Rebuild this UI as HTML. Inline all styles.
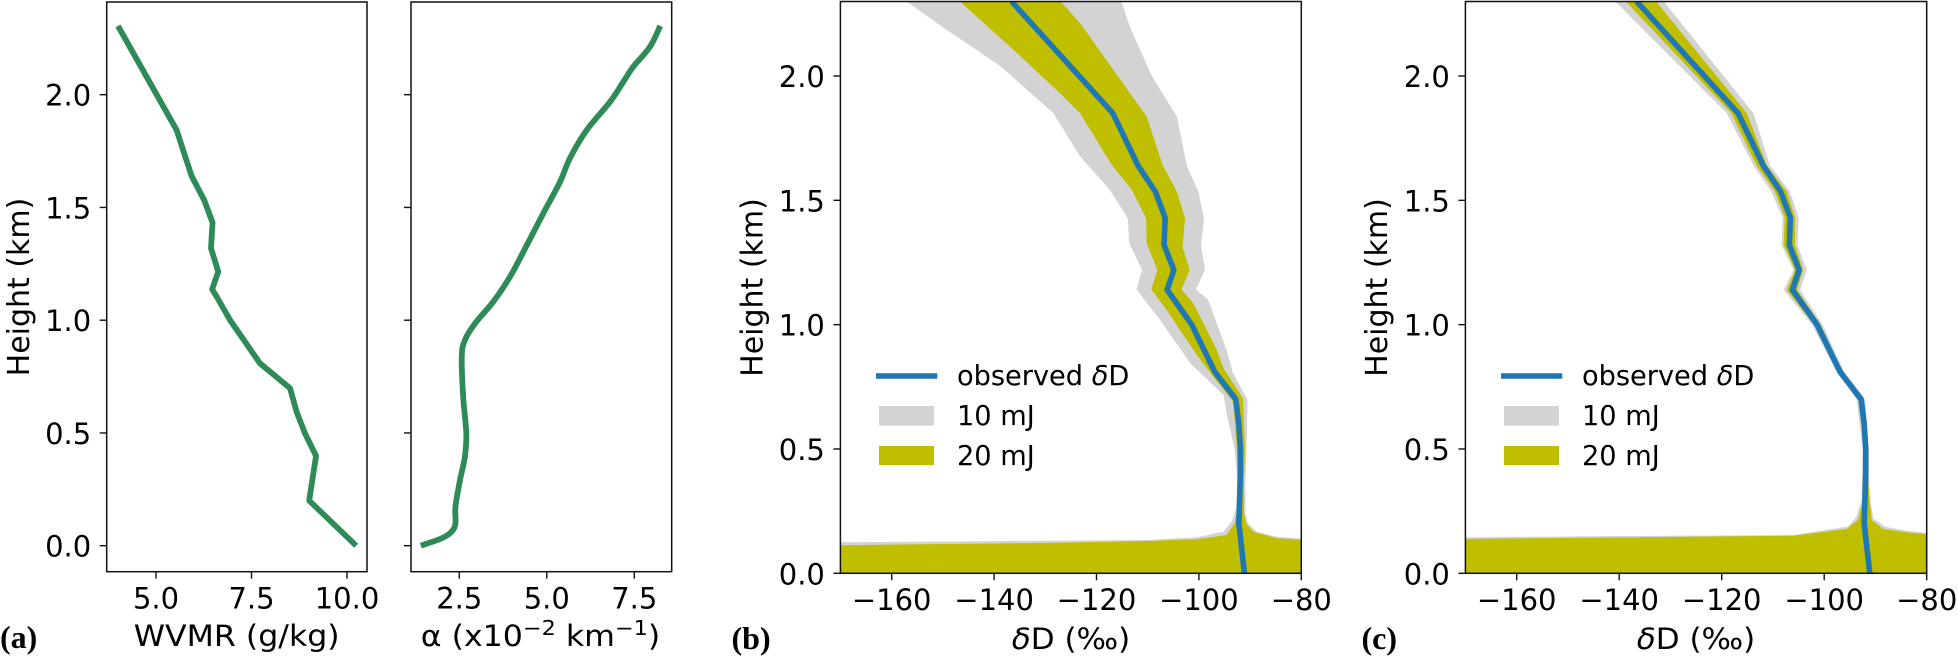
<!DOCTYPE html>
<html lang="en">
<head>
<meta charset="utf-8">
<title>Profiles of WVMR, extinction and delta-D</title>
<style>
  html, body { margin: 0; padding: 0; background: #fff; }
  svg { display: block; }
  text { font-family: "DejaVu Sans", sans-serif; fill: #000; }
  .panel-tag { font-family: "Liberation Serif", serif; font-weight: bold; font-size: 32px; }
</style>
</head>
<body>
<svg id="fig" xmlns="http://www.w3.org/2000/svg" width="1958" height="658" viewBox="0 0 1958 658">
  <defs>
    <clipPath id="clip-a"><rect x="106.7" y="2" width="260.3" height="569.7"/></clipPath>
    <clipPath id="clip-alpha"><rect x="411" y="2" width="260.7" height="569.7"/></clipPath>
    <clipPath id="clip-b"><rect x="840.4" y="1.5" width="460.9" height="571.8"/></clipPath>
    <clipPath id="clip-c"><rect x="1465.4" y="1.5" width="461.3" height="571.8"/></clipPath>
  </defs>
  <text class="panel-tag" x="0" y="648">(a)</text>
  <text class="panel-tag" x="731.5" y="649">(b)</text>
  <text class="panel-tag" x="1361.5" y="649">(c)</text>
</svg>
<script>
// ---------- data: panel (a) ----------
const wvmrHeights = [2.305,1.843,1.64,1.533,1.433,1.319,1.215,1.137,1.104,1.0,0.809,0.698,0.594,0.498,0.398,0.2,0];
const wvmrValues  = [4.005,5.54,5.93,6.26,6.48,6.44,6.63,6.47,6.59,6.94,7.72,8.51,8.68,8.9,9.19,9.01,10.24];
const wvmrTicks = [5, 7.5, 10];
const wvmrTickLabels = ["5.0", "7.5", "10.0"];

// ---------- data: extinction panel ----------
const alphaHeights = [0,0.033,0.062,0.099,0.173,0.291,0.395,0.498,0.661,0.838,0.912,0.986,1.082,1.193,1.333,1.474,1.614,1.718,1.843,1.969,2.058,2.124,2.213,2.305];
const alphaValues  = [1.40,2.0,2.28,2.39,2.39,2.52,2.66,2.7,2.61,2.57,2.66,2.95,3.47,3.95,4.43,4.9,5.38,5.66,6.14,6.81,7.19,7.47,7.95,8.24];
const alphaTicks = [2.5, 5, 7.5];
const alphaTickLabels = ["2.5", "5.0", "7.5"];

// ---------- shared axes ----------
const heightTicks = [0, 0.5, 1, 1.5, 2];
const heightTickLabels = ["0.0", "0.5", "1.0", "1.5", "2.0"];
const deltaTicks = [-160, -140, -120, -100, -80];
const deltaTickLabels = ["\u2212160", "\u2212140", "\u2212120", "\u2212100", "\u221280"];

// ---------- data: observed delta-D (panels b and c) ----------
const observedHeights = [2.3,1.85,1.64,1.535,1.43,1.32,1.22,1.14,1.0,0.81,0.70,0.6,0.5,0.4,0.2,0];
const observedValues  = [-136.6,-116.8,-111.9,-108.5,-106.6,-106.8,-104.9,-106.2,-101.4,-96.9,-92.8,-92.2,-91.9,-91.9,-92.2,-91.1];

// ---------- data: panel (b) bands ----------
const b10LeftHeights  = [2.3,2.186,2.04,1.85,1.676,1.542,1.428,1.327,1.22,1.142,1.019,0.845,0.717,0.644,0.496,0.375,0.268,0.208,0.167,0.145,0.134,0.125,0];
const b10LeftValues   = [-157.1,-149.3,-138.8,-128.4,-123.2,-117.4,-113.9,-113.6,-111.1,-112.2,-107.6,-101.7,-95.2,-94.6,-93,-92.5,-92.6,-93.6,-95.2,-100.4,-110.2,-170,-170];
const b10RightHeights = [2.3,2.198,2.0,1.837,1.635,1.535,1.428,1.321,1.22,1.142,1.1,0.898,0.804,0.697,0.496,0.375,0.241,0.201,0.167,0.147,0.14,0];
const b10RightValues  = [-115.1,-113.5,-109.2,-104.3,-102.3,-100.1,-99,-99.6,-98.8,-100.6,-98.2,-94.6,-93.3,-90.5,-90.7,-90.9,-90.9,-90.4,-88.7,-84.8,-80,-80];
const b20LeftHeights  = [2.3,2.105,1.93,1.85,1.642,1.542,1.428,1.327,1.22,1.142,1.059,0.878,0.791,0.69,0.509,0.375,0.268,0.201,0.154,0.137,0.13,0.123,0.113,0];
const b20LeftValues   = [-146.7,-136.2,-127.1,-123.2,-117,-113.1,-110.3,-110.2,-108.1,-109.3,-106.3,-100.4,-97.2,-93.3,-92.6,-92.3,-92.4,-93,-94.6,-100.4,-110.2,-127,-170,-170];
const b20RightHeights = [2.3,2.212,1.837,1.642,1.535,1.428,1.312,1.22,1.142,1.086,0.898,0.825,0.704,0.496,0.375,0.241,0.201,0.167,0.141,0.135,0];
const b20RightValues  = [-127,-123.2,-110.2,-107.1,-104.3,-102.7,-103.2,-101.8,-103.4,-101.1,-96.5,-95.2,-91.4,-91,-91.2,-91.2,-90.8,-89.4,-84.8,-80,-80];

// ---------- data: panel (c) bands ----------
const c10LeftHeights  = [2.3,1.85,1.64,1.535,1.43,1.32,1.22,1.14,1.0,0.81,0.70,0.5,0.4,0.295,0.228,0.188,0.154,0.15,0.145,0];
const c10LeftValues   = [-140.8,-119,-113.8,-110.3,-108.1,-108.3,-106,-107.9,-102.4,-97.6,-93.7,-92.5,-92.6,-92.7,-93.7,-95.3,-106,-138.5,-170,-170];
const c10RightHeights = [2.3,1.85,1.64,1.535,1.43,1.32,1.22,1.14,1.0,0.81,0.70,0.5,0.4,0.282,0.221,0.187,0.171,0.163,0];
const c10RightValues  = [-131.3,-113.8,-110.6,-106.7,-105,-105.2,-103.4,-104.7,-100.3,-96.1,-92,-91.3,-91.3,-90.9,-90.4,-88.1,-83.9,-80,-80];
const c20LeftHeights  = [2.3,1.85,1.64,1.535,1.43,1.32,1.22,1.14,1.0,0.81,0.70,0.5,0.4,0.282,0.214,0.178,0.168,0.151,0.138,0];
const c20LeftValues   = [-138.7,-118.1,-113.2,-109.6,-107.7,-107.9,-105.7,-107.3,-102,-97.3,-93.3,-92.2,-92.2,-92.6,-93.4,-95.6,-99.5,-106,-170,-170];
const c20RightHeights = [2.3,1.85,1.64,1.535,1.43,1.32,1.22,1.14,1.0,0.81,0.70,0.5,0.4,0.282,0.214,0.178,0.165,0.157,0];
const c20RightValues  = [-132.8,-115.1,-111.2,-107.3,-105.7,-105.7,-104.1,-105.3,-100.7,-96.4,-92.3,-91.5,-91.5,-91.1,-90.7,-88.5,-83.9,-80,-80];

// ---------- legend text ----------
const legendLabels = ["10 mJ", "20 mJ"];

// ---------- drawing ----------
const NS = "http://www.w3.org/2000/svg";
const fig = document.getElementById("fig");

function make(tag, parent, attrs) {
  const el = document.createElementNS(NS, tag);
  for (const k in attrs) el.setAttribute(k, attrs[k]);
  parent.appendChild(el);
  return el;
}
function linear(d0, d1, r0, r1) {
  return function (v) { return r0 + (v - d0) * (r1 - r0) / (d1 - d0); };
}
function linePoints(values, heights, x, y) {
  return values.map(function (v, i) { return x(v).toFixed(2) + "," + y(heights[i]).toFixed(2); }).join(" ");
}
function bandPoints(lv, lh, rv, rh, x, y) {
  return linePoints(lv, lh, x, y) + " " + linePoints(rv.slice().reverse(), rh.slice().reverse(), x, y);
}
function smoothPath(values, heights, x, y) {
  const p = values.map(function (v, i) { return [x(v), y(heights[i])]; });
  let d = "M" + p[0][0].toFixed(2) + " " + p[0][1].toFixed(2);
  for (let i = 0; i < p.length - 1; i++) {
    const a = p[Math.max(i - 1, 0)], b = p[i], c = p[i + 1], e = p[Math.min(i + 2, p.length - 1)];
    d += " C" + (b[0] + (c[0] - a[0]) / 6).toFixed(2) + " " + (b[1] + (c[1] - a[1]) / 6).toFixed(2) +
         " " + (c[0] - (e[0] - b[0]) / 6).toFixed(2) + " " + (c[1] - (e[1] - b[1]) / 6).toFixed(2) +
         " " + c[0].toFixed(2) + " " + c[1].toFixed(2);
  }
  return d;
}

const yA = linear(0, 2, 545.7, 94.7);
const xA = linear(5, 10, 156, 347);
const xAlpha = linear(2.5, 7.5, 459.3, 634.3);
const yD = linear(0, 2, 573.3, 76);
const xB = linear(-160, -80, 891.7, 1301.3);
const xC = linear(-160, -80, 1516.7, 1926.7);

function drawAxes(g, box, x, y, xTicks, xLabels, showYLabels) {
  xTicks.forEach(function (t, i) {
    const tick = make("line", g, { x1: x(t), x2: x(t), y1: box.b, y2: box.b + 7, stroke: "#111", "stroke-width": 1.4 });
    
    
    const lab = make("text", g, { x: x(t), y: box.b + 36.6, "text-anchor": "middle", "font-size": 29 });
    lab.textContent = xLabels[i];
    
    
  });
  heightTicks.forEach(function (t, i) {
    const tick = make("line", g, { x1: box.l - 7, x2: box.l, y1: y(t), y2: y(t), stroke: "#111", "stroke-width": 1.4 });
    
    
    if (showYLabels) {
      const lab = make("text", g, { x: box.l - 15.5, y: y(t) + 11, "text-anchor": "end", "font-size": 29 });
      lab.textContent = heightTickLabels[i];
      
      
    }
  });
  const frame = make("rect", g, { x: box.l, y: box.t, width: box.r - box.l, height: box.b - box.t, fill: "none", stroke: "#111", "stroke-width": 1.5 });
  
  
}

function yTitle(g, xBase, yCenter) {
  const t = make("text", g, { transform: "translate(" + xBase + "," + yCenter + ") rotate(-90)", "text-anchor": "middle", "font-size": 30 });
  t.textContent = "Height (km)";
  
  
}

function deltaTitle(g, cx) {
  const t = make("text", g, { transform: "translate(" + cx + ",649) scale(1.07,1)", "text-anchor": "middle", "font-size": 29 });
  const d = make("tspan", t, { "font-style": "italic" });
  d.textContent = "\u03B4";
  const rest = make("tspan", t, {});
  rest.textContent = "D (\u2030)";
  
  
}

function drawLegend(g, dx) {
  const l = make("line", g, { x1: 876 + dx, x2: 937.3 + dx, y1: 376, y2: 376, stroke: "#1f77b4", "stroke-width": 5.6 });
  
  
  const t0 = make("text", g, { x: 957 + dx, y: 385, "font-size": 27.2 });
  const a = make("tspan", t0, {});
  a.textContent = "observed ";
  const b = make("tspan", t0, { "font-style": "italic" });
  b.textContent = "\u03B4";
  const c = make("tspan", t0, {});
  c.textContent = "D";
  
  

  const r1 = make("rect", g, { x: 879 + dx, y: 406, width: 55, height: 19.7, fill: "#d3d3d3" });
  
  
  const t1 = make("text", g, { x: 957 + dx, y: 425, "font-size": 27.2 });
  t1.textContent = legendLabels[0];
  
  

  const r2 = make("rect", g, { x: 879 + dx, y: 446, width: 55, height: 19, fill: "#bfbf00" });
  
  
  const t2 = make("text", g, { x: 957 + dx, y: 465, "font-size": 27.2 });
  t2.textContent = legendLabels[1];
  
  
}

// Panel (a)
const gA = make("g", fig, {});


const lineA = make("polyline", gA, { points: linePoints(wvmrValues, wvmrHeights, xA, yA), fill: "none", stroke: "#2e8b57", "stroke-width": 5.8, "stroke-linejoin": "round", "clip-path": "url(#clip-a)" });


drawAxes(gA, { l: 106.7, r: 367, t: 2, b: 571.7 }, xA, yA, wvmrTicks, wvmrTickLabels, true);
yTitle(gA, 29, 287);
const titleA = make("text", gA, { transform: "translate(236.7,646) scale(1.09,1)", "text-anchor": "middle", "font-size": 29 });
titleA.textContent = "WVMR (g/kg)";



// Extinction panel
const gAl = make("g", fig, {});


const lineAl = make("path", gAl, { d: smoothPath(alphaValues, alphaHeights, xAlpha, yA), fill: "none", stroke: "#2e8b57", "stroke-width": 5.8, "stroke-linejoin": "round", "clip-path": "url(#clip-alpha)" });


drawAxes(gAl, { l: 411, r: 671.7, t: 2, b: 571.7 }, xAlpha, yA, alphaTicks, alphaTickLabels, false);
const titleAl = make("text", gAl, { transform: "translate(540.5,646) scale(1.09,1)", "text-anchor": "middle", "font-size": 29 });
const s1 = make("tspan", titleAl, {});
s1.textContent = "\u03B1 (x10";
const s2 = make("tspan", titleAl, { dy: -11, "font-size": 20.5 });
s2.textContent = "\u22122";
const s3 = make("tspan", titleAl, { dy: 11 });
s3.textContent = " km";
const s4 = make("tspan", titleAl, { dy: -11, "font-size": 20.5 });
s4.textContent = "\u22121";
const s5 = make("tspan", titleAl, { dy: 11 });
s5.textContent = ")";



// Panel (b)
const gB = make("g", fig, {});


const bGray = make("polygon", gB, { points: bandPoints(b10LeftValues, b10LeftHeights, b10RightValues, b10RightHeights, xB, yD), fill: "#d3d3d3", "clip-path": "url(#clip-b)" });


const bOlive = make("polygon", gB, { points: bandPoints(b20LeftValues, b20LeftHeights, b20RightValues, b20RightHeights, xB, yD), fill: "#bfbf00", "clip-path": "url(#clip-b)" });


const bLine = make("polyline", gB, { points: linePoints(observedValues, observedHeights, xB, yD), fill: "none", stroke: "#1f77b4", "stroke-width": 5.6, "stroke-linejoin": "round", "clip-path": "url(#clip-b)" });


drawAxes(gB, { l: 840.4, r: 1301.3, t: 1.5, b: 573.3 }, xB, yD, deltaTicks, deltaTickLabels, true);
yTitle(gB, 762.7, 287.5);
deltaTitle(gB, 1071);
drawLegend(gB, 0);

// Panel (c)
const gC = make("g", fig, {});


const cGray = make("polygon", gC, { points: bandPoints(c10LeftValues, c10LeftHeights, c10RightValues, c10RightHeights, xC, yD), fill: "#d3d3d3", "clip-path": "url(#clip-c)" });


const cOlive = make("polygon", gC, { points: bandPoints(c20LeftValues, c20LeftHeights, c20RightValues, c20RightHeights, xC, yD), fill: "#bfbf00", "clip-path": "url(#clip-c)" });


const cLine = make("polyline", gC, { points: linePoints(observedValues, observedHeights, xC, yD), fill: "none", stroke: "#1f77b4", "stroke-width": 5.6, "stroke-linejoin": "round", "clip-path": "url(#clip-c)" });


drawAxes(gC, { l: 1465.4, r: 1926.7, t: 1.5, b: 573.3 }, xC, yD, deltaTicks, deltaTickLabels, true);
yTitle(gC, 1387, 287.5);
deltaTitle(gC, 1696);
drawLegend(gC, 625);
</script>
</body>
</html>
